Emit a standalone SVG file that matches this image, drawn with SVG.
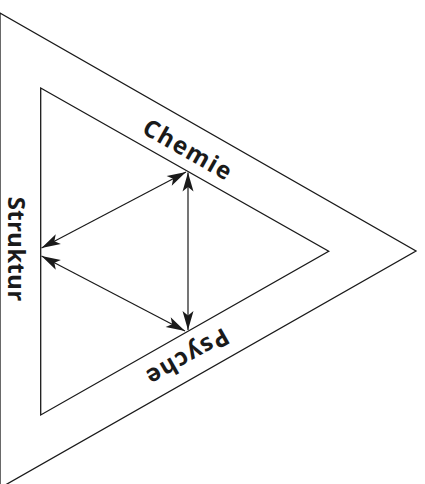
<svg xmlns="http://www.w3.org/2000/svg" width="425" height="484" viewBox="0 0 425 484">
<style>
.tri{fill:none;stroke:#1a1a1a;stroke-width:1.3;stroke-linejoin:miter}
.arr{stroke:#1a1a1a;stroke-width:1.2;fill:none;marker-start:url(#ah);marker-end:url(#ah)}
</style>
<defs>
<marker id="ah" viewBox="-21 -7 22 14" refX="0" refY="0" markerWidth="22" markerHeight="14" markerUnits="userSpaceOnUse" orient="auto-start-reverse">
<path d="M0,0 L-19,-5.5 L-14.5,0 L-19,5.5 Z" fill="#1a1a1a"/>
</marker>
</defs>
<rect width="425" height="484" fill="#ffffff"/>
<g id="outer">
<polygon class="tri" points="0,13 416,251 0,488"/>
</g>
<g id="inner">
<polygon class="tri" points="40.7,88 328.7,251.3 40.7,415"/>
</g>
<g id="chemie"><text font-family="Open Sans, Noto Sans, sans-serif" font-weight="700" font-size="24" letter-spacing="1.5" fill="#1a1a1a" transform="translate(184,157) rotate(29.6)" text-anchor="middle">Chemie</text></g>
<g id="psyche"><text font-family="Open Sans, Noto Sans, sans-serif" font-weight="700" font-size="24" letter-spacing="1.5" fill="#1a1a1a" transform="translate(183,350) rotate(150.4)" text-anchor="middle">Psyche</text></g>
<g id="struktur"><text font-family="Open Sans, Noto Sans, sans-serif" font-weight="700" font-size="24" letter-spacing="0.3" fill="#1a1a1a" transform="translate(8,249) rotate(90)" text-anchor="middle">Struktur</text></g>
<g id="connectors">
<line class="arr" x1="41.5" y1="248" x2="186" y2="172"/>
<line class="arr" x1="41.5" y1="256" x2="185" y2="331"/>
<line class="arr" x1="188" y1="172.5" x2="188" y2="330"/>
</g>
</svg>
